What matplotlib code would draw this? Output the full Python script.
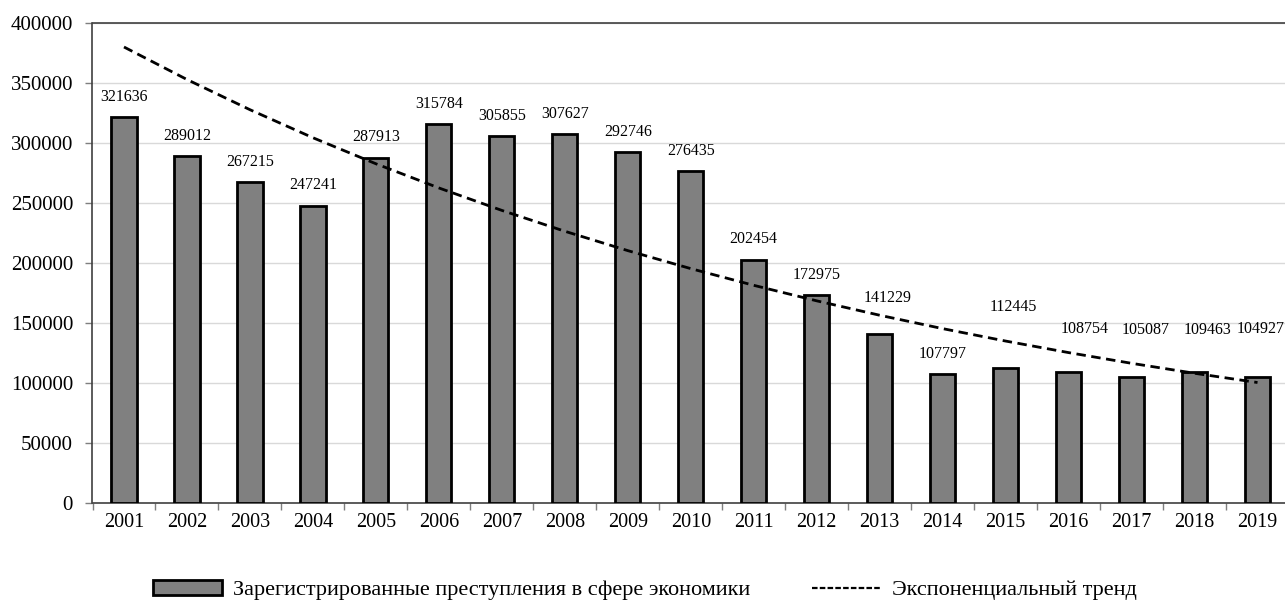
import numpy as np
import matplotlib
matplotlib.use("Agg")
import matplotlib.pyplot as plt
from matplotlib.patches import Patch
from matplotlib.lines import Line2D

years = [str(y) for y in range(2001, 2020)]
values = [321636, 289012, 267215, 247241, 287913, 315784, 305855, 307627,
          292746, 276435, 202454, 172975, 141229, 107797, 112445, 108754,
          105087, 109463, 104927]
bar_label = "Зарегистрированные преступления в сфере экономики"
trend_label = "Экспоненциальный тренд"

# label placement tweaks (pixels), layout only
label_dy = [20, 20, 20, 21, 21, 20, 20, 20, 20, 20, 21, 20, 36, 20, 61, 43, 47, 42, 48]
label_dx = [0, 0, 0, 0, 0, 0, 0, 0, 0, 0, 0, 0, 8, 0, 8, 16, 14, 13, 3]

plt.rcParams['font.family'] = ['Liberation Serif', 'DejaVu Serif']

W, H = 1285, 602
fig = plt.figure(figsize=(W / 100, H / 100), dpi=100)
left, right, top, bottom = 92.5, 1289, 23, 503
ax = fig.add_axes([left / W, (H - bottom) / H, (right - left) / W, (bottom - top) / H])

x = np.arange(len(years))
ax.bar(x, values, width=0.4, color='#808080', edgecolor='black', linewidth=2, zorder=3)

# exponential trend fitted to the data
b, a = np.polyfit(x, np.log(values), 1)
trend = np.exp(a + b * x)
ax.plot(x, trend, color='black', linestyle=(0, (3.4, 2.0)), linewidth=2.0, zorder=4)

for xi, v, dy, dx in zip(x, values, label_dy, label_dx):
    ax.annotate(str(v), (xi, v), xytext=(dx, dy), textcoords='offset pixels',
                ha='center', va='center', fontsize=11.5, color='black', zorder=5)

ax.set_xlim(-0.5, len(years) - 0.5)
ax.set_ylim(0, 400000)
ax.set_yticks(np.arange(0, 400001, 50000))
ax.set_yticklabels([str(v) for v in range(0, 400001, 50000)])
ax.yaxis.grid(True, color='#d9d9d9', linewidth=1, zorder=0)
ax.set_axisbelow(True)

ax.set_xticks(x)
ax.set_xticklabels(years)
ax.set_xticks(np.arange(-0.5, len(years)), minor=True)
ax.tick_params(axis='x', which='major', length=0, pad=7, labelsize=14.5)
ax.tick_params(axis='x', which='minor', length=5, width=1, color='#7f7f7f')
ax.tick_params(axis='y', length=5, width=1, color='#7f7f7f', pad=9, labelsize=15)

for s in ['left', 'bottom', 'top']:
    ax.spines[s].set_color('#404040')
    ax.spines[s].set_linewidth(1.2)
ax.spines['right'].set_visible(False)

handles = [Patch(facecolor='#808080', edgecolor='black', linewidth=2),
           Line2D([0], [0], color='black', linestyle=(0, (2.5, 1)), linewidth=1.6)]
fig.legend(handles, [bar_label, trend_label], loc='center',
           bbox_to_anchor=(645 / W, (H - 590) / H), ncol=2, frameon=False,
           fontsize=16, handlelength=3.1, handleheight=0.65, columnspacing=2.8,
           handletextpad=0.5)

fig.savefig("out.png", dpi=100)
